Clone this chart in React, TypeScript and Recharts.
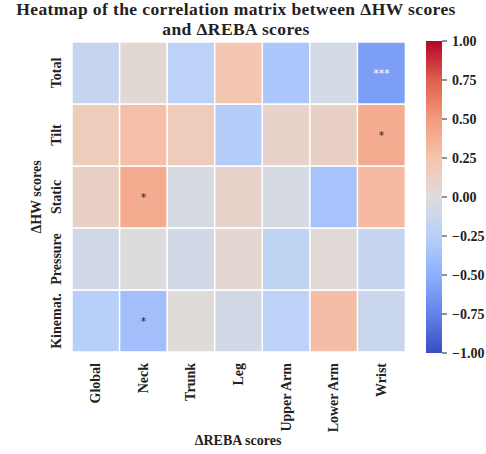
import React from 'react'
import { BarChart, Bar, XAxis, YAxis, Cell, LabelList } from 'recharts'

// column / row labels
const rebaScores = ['Global', 'Neck', 'Trunk', 'Leg', 'Upper Arm', 'Lower Arm', 'Wrist']
// bottom to top (stack order)
const hwScores = ['Kinemat.', 'Pressure', 'Static', 'Tilt', 'Total']

// correlation values, one array per ΔHW row, ordered like rebaScores
const totalCorr = [-0.16, 0.05, -0.22, 0.23, -0.33, -0.07, -0.6]
const tiltCorr = [0.17, 0.28, 0.18, -0.27, 0.1, 0.13, 0.4]
const staticCorr = [0.13, 0.4, -0.05, 0.1, -0.05, -0.35, 0.31]
const pressureCorr = [-0.09, -0.01, -0.08, 0.07, -0.2, 0.04, -0.16]
const kinematCorr = [-0.25, -0.38, 0.02, -0.08, -0.22, 0.29, -0.13]

// significance marks
const totalStars = ['', '', '', '', '', '', '***']
const tiltStars = ['', '', '', '', '', '', '*']
const staticStars = ['', '*', '', '', '', '', '']
const pressureStars = ['', '', '', '', '', '', '']
const kinematStars = ['', '*', '', '', '', '', '']

const cbTicks = [-1, -0.75, -0.5, -0.25, 0, 0.25, 0.5, 0.75, 1]

const corrRows = [kinematCorr, pressureCorr, staticCorr, tiltCorr, totalCorr]
const starRows = [kinematStars, pressureStars, staticStars, tiltStars, totalStars]

const tableData = rebaScores.map((name) => {
    const row: Record<string, any> = { name }
    hwScores.forEach((h) => (row[h] = 1))
    return row
})

// matplotlib coolwarm anchors
const coolwarm = [
    [58, 76, 192],
    [98, 130, 234],
    [141, 176, 254],
    [184, 208, 249],
    [221, 221, 221],
    [245, 196, 173],
    [244, 154, 123],
    [222, 96, 77],
    [180, 4, 38],
]

function rgbFor(v: number) {
    const t = Math.max(0, Math.min(1, (v + 1) / 2)) * (coolwarm.length - 1)
    const i = Math.min(coolwarm.length - 2, Math.floor(t))
    const f = t - i
    return coolwarm[i].map((c, k) => Math.round(c + (coolwarm[i + 1][k] - c) * f))
}

function colorFor(v: number) {
    const [r, g, b] = rgbFor(v)
    return `rgb(${r},${g},${b})`
}

const font = "'Liberation Serif', 'Times New Roman', serif"

const XTick = ({ x, y, payload }: any) => (
    <text
        transform={`translate(${x},${y + 1}) rotate(-90)`}
        textAnchor="end"
        dominantBaseline="central"
        fontFamily={font}
        fontWeight="bold"
        fontSize={14}
        fill="#222"
    >
        {payload.value}
    </text>
)

const YTick = ({ x, y, payload }: any) => (
    <text
        transform={`translate(${x},${y}) rotate(-90)`}
        textAnchor="middle"
        fontFamily={font}
        fontWeight="bold"
        fontSize={14}
        fill="#222"
    >
        {hwScores[Math.floor(payload.value)]}
    </text>
)

const fmt = (v: number) => (v < 0 ? '\u2212' : '') + Math.abs(v).toFixed(2)

const GradientBar = (p: any) => (
    <g>
        <defs>
            <linearGradient id="cbGrad" x1="0" y1="1" x2="0" y2="0">
                {coolwarm.map((c, i) => (
                    <stop
                        key={i}
                        offset={i / (coolwarm.length - 1)}
                        stopColor={`rgb(${c[0]},${c[1]},${c[2]})`}
                    />
                ))}
            </linearGradient>
        </defs>
        <rect x={p.x} y={p.y} width={p.width} height={p.height} fill="url(#cbGrad)" />
    </g>
)

const titleLine = {
    position: 'absolute' as const,
    left: 0,
    width: 472,
    textAlign: 'center' as const,
    fontWeight: 'bold',
    fontSize: 17.5,
    letterSpacing: 0.4,
    lineHeight: '19px',
    height: 19,
    color: '#222',
    whiteSpace: 'nowrap' as const,
}

export default function App() {
    return (
        <div
            style={{
                position: 'absolute',
                left: 0,
                top: 0,
                width: 486,
                height: 454,
                overflow: 'hidden',
                background: '#fff',
                fontFamily: font,
            }}
        >
            <div style={{ ...titleLine, top: 0 }}>
                Heatmap of the correlation matrix between ΔHW scores
            </div>
            <div style={{ ...titleLine, top: 19.5 }}>and ΔREBA scores</div>

            <BarChart
                width={486}
                height={454}
                data={tableData}
                margin={{ top: 42, right: 81, bottom: 42, left: 42 }}
                barCategoryGap={0}
                barGap={0}
                style={{ position: 'absolute', left: 0, top: 0 }}
            >
                <XAxis
                    dataKey="name"
                    axisLine={false}
                    tickLine={false}
                    tickSize={0}
                    tickMargin={10}
                    height={60}
                    interval={0}
                    tick={<XTick />}
                />
                <YAxis
                    type="number"
                    domain={[0, 5]}
                    ticks={[0.5, 1.5, 2.5, 3.5, 4.5]}
                    axisLine={false}
                    tickLine={false}
                    tickSize={0}
                    tickMargin={11}
                    width={30}
                    tick={<YTick />}
                />
                {hwScores.map((h, r) => (
                    <Bar key={h} dataKey={h} stackId="a" isAnimationActive={false}>
                        {corrRows[r].map((v, c) => (
                            <Cell key={c} fill={colorFor(v)} stroke="#fff" strokeWidth={1.5} />
                        ))}
                        <LabelList
                            dataKey={h}
                            content={(p: any) => {
                                const s = starRows[r][p.index]
                                if (!s) return null
                                const [cr, cg, cb] = rgbFor(corrRows[r][p.index])
                                const lum = 0.299 * cr + 0.587 * cg + 0.114 * cb
                                return (
                                    <text
                                        x={p.x + p.width / 2}
                                        y={p.y + p.height / 2}
                                        textAnchor="middle"
                                        dominantBaseline="central"
                                        fontFamily="'DejaVu Sans', sans-serif"
                                        fontSize={11}
                                        fill={lum < 160 ? '#fff' : '#262626'}
                                    >
                                        {s}
                                    </text>
                                )
                            }}
                        />
                    </Bar>
                ))}
            </BarChart>

            <div
                style={{
                    position: 'absolute',
                    left: 37,
                    top: 197,
                    transform: 'translate(-50%, -50%) rotate(-90deg)',
                    whiteSpace: 'nowrap',
                    fontWeight: 'bold',
                    fontSize: 14,
                    color: '#222',
                }}
            >
                ΔHW scores
            </div>
            <div
                style={{
                    position: 'absolute',
                    left: 238,
                    top: 441,
                    transform: 'translate(-50%, -50%)',
                    whiteSpace: 'nowrap',
                    fontWeight: 'bold',
                    fontSize: 14,
                    color: '#222',
                }}
            >
                ΔREBA scores
            </div>

            <BarChart
                width={100}
                height={400}
                data={[{ name: 'cb', range: [-1, 1] }]}
                margin={{ top: 41, right: 24, bottom: 47, left: 16 }}
                barCategoryGap={0}
                style={{ position: 'absolute', left: 410, top: 0 }}
            >
                <XAxis dataKey="name" hide />
                <YAxis
                    orientation="right"
                    type="number"
                    domain={[-1, 1]}
                    ticks={cbTicks}
                    axisLine={false}
                    tickSize={5}
                    tickMargin={5}
                    width={44}
                    tickLine={{ stroke: '#222' }}
                    tickFormatter={fmt}
                    tick={{ fontFamily: font, fontWeight: 'bold', fontSize: 14, fill: '#222', textAnchor: 'start' }}
                />
                <Bar dataKey="range" shape={<GradientBar />} isAnimationActive={false} />
            </BarChart>
        </div>
    )
}
